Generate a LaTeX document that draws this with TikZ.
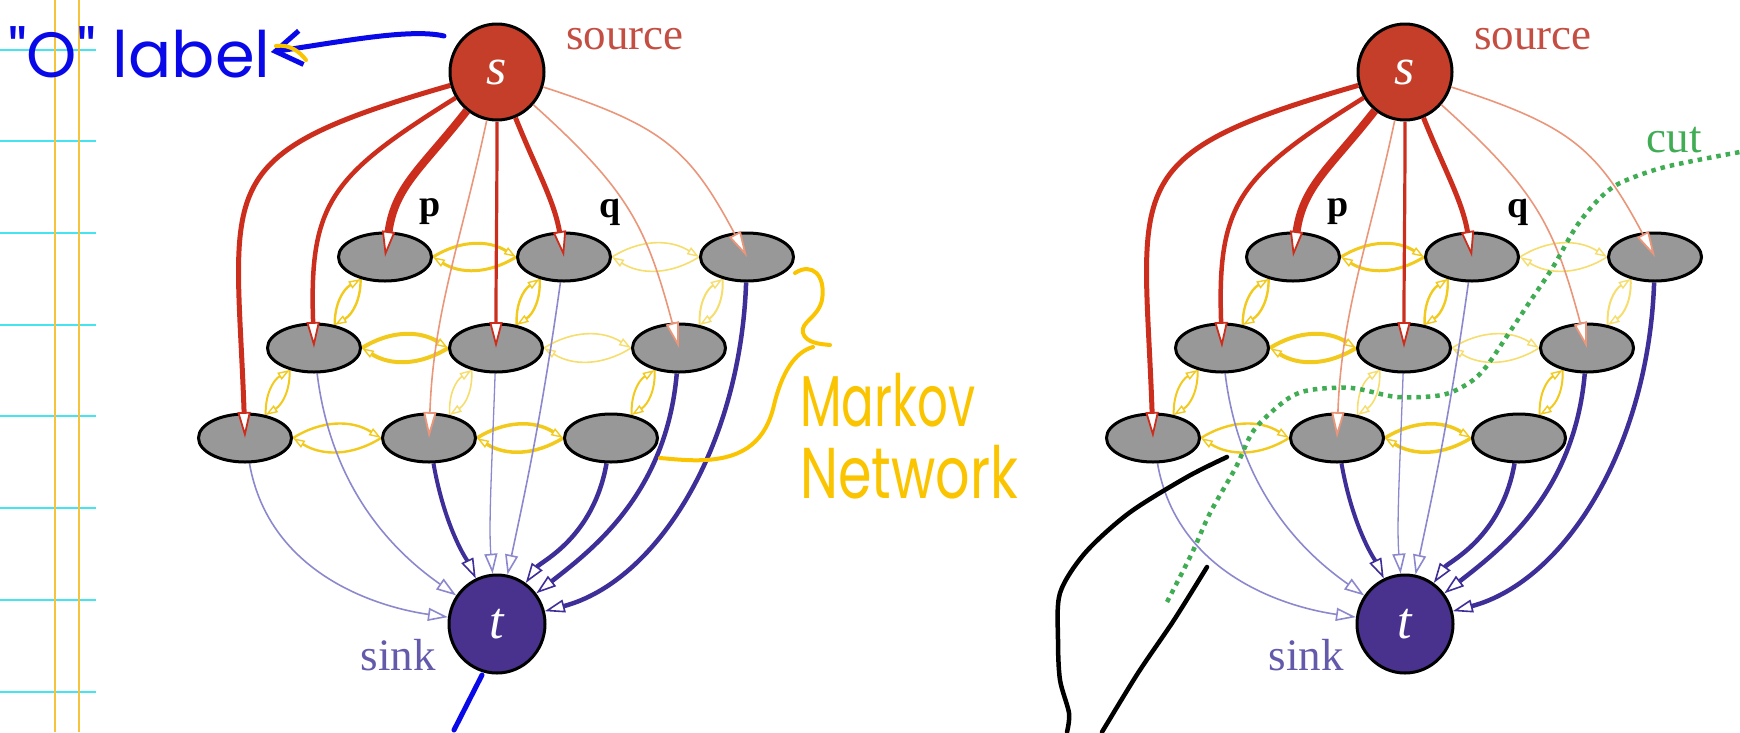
\documentclass[tikz,border=0pt]{standalone}
\usepackage{fontspec}
\setmainfont{Liberation Serif}
\newfontfamily\handfont{Poppins}
\usetikzlibrary{arrows.meta,shapes.geometric}
\pgfdeclarelayer{bg}
\pgfsetlayers{bg,main}
\definecolor{srcfill}{RGB}{196,62,42}
\definecolor{sinkfill}{RGB}{72,50,142}
\definecolor{pixfill}{RGB}{152,152,152}
\definecolor{redA}{RGB}{204,46,30}
\definecolor{redB}{RGB}{234,150,122}
\definecolor{blueA}{RGB}{62,46,152}
\definecolor{blueB}{RGB}{140,136,206}
\definecolor{yelA}{RGB}{242,202,30}
\definecolor{yelB}{RGB}{246,222,110}
\definecolor{srctext}{RGB}{196,78,66}
\definecolor{sinktext}{RGB}{100,90,172}
\definecolor{cutgreen}{RGB}{64,172,84}
\definecolor{inkblue}{RGB}{8,8,232}
\definecolor{inkyellow}{RGB}{250,196,0}
\definecolor{ruleline}{RGB}{70,228,240}
\definecolor{marginline}{RGB}{246,196,60}
\tikzset{
  redtip/.tip={Triangle[fill=white,length=26pt,width=13pt,line width'=1.8pt]},
  bluetip/.tip={Triangle[fill=white,length=20pt,width=13pt,line width'=1.6pt]},
  yeltip/.tip={Triangle[fill=white,length=12pt,width=8pt,line width'=1.4pt]},
  srcnode/.style={ellipse,draw=black,line width=3pt,fill=srcfill,minimum width=94pt,minimum height=96pt,inner sep=0pt,text=white,font=\fontsize{52}{52}\selectfont\itshape},
  sinknode/.style={ellipse,draw=black,line width=3pt,fill=sinkfill,minimum width=96pt,minimum height=98pt,inner sep=0pt,text=white,font=\fontsize{52}{52}\selectfont\itshape},
  pix/.style={ellipse,draw=black,line width=3pt,fill=pixfill,minimum width=93pt,minimum height=48pt,inner sep=0pt},
  srclbl/.style={text=srctext,font=\fontsize{45}{45}\selectfont,inner sep=0pt},
  sinklbl/.style={text=sinktext,font=\fontsize{45}{45}\selectfont,inner sep=0pt},
  pq/.style={text=black,font=\fontsize{38}{38}\selectfont\bfseries,inner sep=0pt},
  cutlbl/.style={text=cutgreen,font=\fontsize{45}{45}\selectfont,inner sep=0pt},
  rE/.style 2 args={draw=#1,line width=#2,-redtip},
  bE/.style 2 args={draw=#1,line width=#2,-bluetip},
  yE/.style 2 args={draw=#1,line width=#2,-yeltip},
  ink/.style={line width=5pt,line cap=round,line join=round},
  handtext/.style={inner sep=0pt,font=\handfont\fontsize{#1}{#1}\selectfont},
}
% horizontal neighbour pair
\newcommand{\ypairh}[4]{%
  \draw[yE={#3}{#4}] (#1.east) to[bend left=32] (#2.west);
  \draw[yE={#3}{#4}] (#2.west) to[bend left=32] (#1.east);}
% vertical (diagonal) neighbour pair
\newcommand{\ypairv}[4]{%
  \draw[yE={#3}{#4}] (#1.222) to[bend left=30] (#2.48);
  \draw[yE={#3}{#4}] (#2.48) to[bend left=30] (#1.222);}
\newcommand{\mrf}{%
  \node[srcnode] (s) at (497,-72) {s};
  \node[sinknode] (t) at (497,-624) {t};
  \node[pix] (n11) at (385,-257) {};
  \node[pix] (n12) at (564,-257) {};
  \node[pix] (n13) at (747,-257) {};
  \node[pix] (n21) at (314,-348) {};
  \node[pix] (n22) at (496,-348) {};
  \node[pix] (n23) at (679,-348) {};
  \node[pix] (n31) at (245,-438) {};
  \node[pix] (n32) at (429,-438) {};
  \node[pix] (n33) at (611,-438) {};
  \node[srclbl] (srcl) at (625,-39) {source};
  \node[sinklbl] (sinkl) at (398,-655) {sink};
  \node[pq] (lp) at (430,-212) {p};
  \node[pq] (lq) at (610,-212) {q};
  \begin{pgfonlayer}{bg}
    \ypairh{n11}{n12}{yelA}{3pt}
    \ypairh{n12}{n13}{yelB}{1.6pt}
    \ypairh{n21}{n22}{yelA}{4pt}
    \ypairh{n22}{n23}{yelB}{1.6pt}
    \ypairh{n31}{n32}{yelA}{2.4pt}
    \ypairh{n32}{n33}{yelA}{3.5pt}
    \ypairv{n11}{n21}{yelA}{2.4pt}
    \ypairv{n12}{n22}{yelA}{2.4pt}
    \ypairv{n13}{n23}{yelB}{2pt}
    \ypairv{n21}{n31}{yelA}{2pt}
    \ypairv{n22}{n32}{yelB}{1.6pt}
    \ypairv{n23}{n33}{yelA}{2pt}
    \draw[bE={blueB}{1.6pt}] (n31) to[out=280,in=172] (t);
    \draw[bE={blueB}{1.6pt}] (n21) to[out=277,in=145] (t);
    \draw[bE={blueA}{4pt}] (n32) to[out=280,in=115] (t);
    \draw[bE={blueB}{1.3pt}] (n22) to[out=268,in=95] (t);
    \draw[bE={blueB}{1.6pt}] (n12) to[out=262,in=78] (t);
    \draw[bE={blueA}{4.5pt}] (n33) to[out=260,in=55] (t);
    \draw[bE={blueA}{4.5pt}] (n23) to[out=265,in=38] (t);
    \draw[bE={blueA}{4.5pt}] (n13) to[out=268,in=15] (t);
  \end{pgfonlayer}
  \draw[rE={redA}{5pt}] (s) to[out=196,in=92,looseness=1.6] (n31.center);
  \draw[rE={redA}{4.5pt}] (s) to[out=212,in=92,looseness=1.3] (n21.center);
  \draw[rE={redA}{8pt}] (s) to[out=232,in=82,looseness=1.1] (n11.center);
  \draw[rE={redB}{1.6pt}] (s) to[out=258,in=88] (n32.center);
  \draw[rE={redA}{3.2pt}] (s) to[out=270,in=90] (n22.center);
  \draw[rE={redA}{5pt}] (s) to[out=292,in=100] (n12.center);
  \draw[rE={redB}{1.6pt}] (s) to[out=318,in=105,looseness=1.15] (n23.center);
  \draw[rE={redB}{1.6pt}] (s) to[out=342,in=118,looseness=1.2] (n13.center);
}
\begin{document}
\begin{tikzpicture}[x=1pt,y=1pt]
\useasboundingbox (0,0) rectangle (1740,-732);
% notebook rules
\foreach \yy in {50,141,233,325,416,508,600,692}
  \draw[ruleline,line width=2.5pt] (0,-\yy) -- (96,-\yy);
\draw[marginline,line width=1.8pt] (55,0) -- (55,-732);
\draw[marginline,line width=1.8pt] (79,0) -- (79,-732);
% two diagrams
\begin{scope}[name prefix=L-]
  \mrf
\end{scope}
\begin{scope}[name prefix=R-,xshift=908pt]
  \mrf
\end{scope}
% cut
\draw[cutgreen,line width=4.5pt,dash pattern=on 4.5pt off 5pt]
  plot[smooth] coordinates {(1167,-602) (1192,-553) (1210,-513) (1236,-467) (1254,-430) (1286,-400) (1310,-390) (1352,-388) (1397,-397) (1442,-395) (1469,-383) (1486,-367) (1509,-333) (1531,-300) (1553,-267) (1576,-227) (1598,-200) (1620,-183) (1665,-167) (1740,-152)};
\node[cutlbl] (cutl) at (1674,-140) {cut};
% handwriting
\node[handtext=64,text=inkblue,anchor=west] (olabel) at (8,-52) {"O" label};
\coordinate (inkA) at (444,-36);
\draw[ink,inkblue,-{Straight Barb[length=26pt,width=34pt]}] (inkA) .. controls (410,-28) and (340,-42) .. (olabel.east);
\draw[ink,inkyellow,line width=4pt] (276,-46) .. controls (290,-44) and (300,-52) .. (306,-60);
\draw[ink,inkblue] (482,-675) -- (454,-730);
\draw[ink,inkyellow,line width=4pt] (795,-273) .. controls (812,-262) and (826,-275) .. (822,-300) .. controls (818,-318) and (800,-322) .. (803,-333) .. controls (806,-343) and (820,-344) .. (830,-345);
\draw[ink,inkyellow,line width=4pt] (813,-347) .. controls (795,-352) and (782,-372) .. (774,-405) .. controls (766,-440) and (745,-458) .. (705,-460) .. controls (690,-461) and (672,-459) .. (660,-458);
\node[handtext=72,text=inkyellow,anchor=west] (mk) at (800,-400) {\scalebox{0.67}[1]{Markov}};
\node[handtext=72,text=inkyellow,anchor=west] (nw) at (800,-472) {\scalebox{0.75}[1]{Network}};
\draw[ink,black,line width=4.5pt] plot[smooth] coordinates {(1227,-457) (1187,-477) (1129,-513) (1085,-553) (1060,-593) (1058,-640) (1060,-680) (1069,-713) (1067,-732)};
\draw[ink,black,line width=4.5pt] plot[smooth] coordinates {(1207,-567) (1174,-620) (1138,-673) (1102,-732)};
\end{tikzpicture}
\end{document}
